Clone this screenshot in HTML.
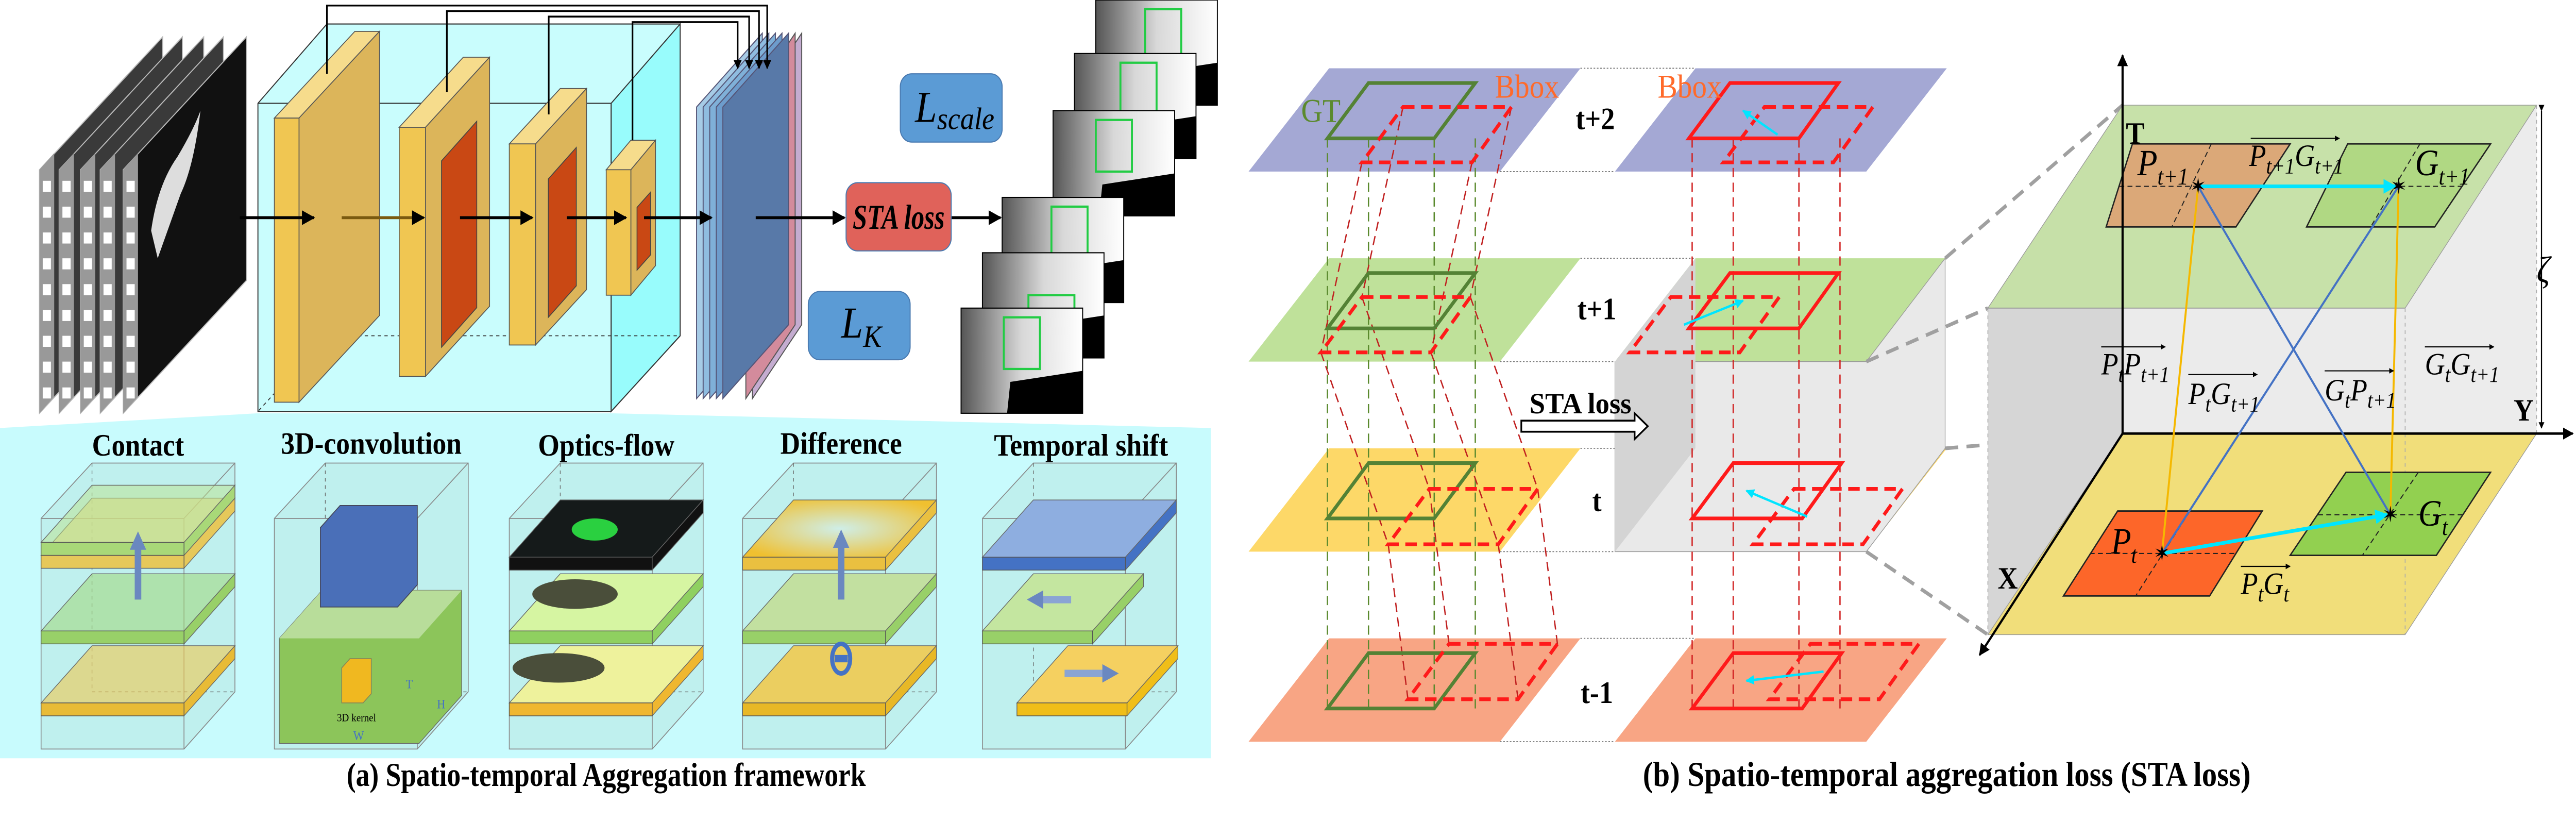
<!DOCTYPE html>
<html><head><meta charset="utf-8">
<style>
html,body{margin:0;padding:0;background:#fff;overflow:hidden;width:100%;height:100%;}
svg{display:block;position:absolute;left:0;top:0;width:100vw;height:100vh;}
text{font-family:"Liberation Serif",serif;}
</style></head>
<body>
<svg id="fig" viewBox="0 0 1568 445" preserveAspectRatio="none" font-family="Liberation Serif, serif" xmlns="http://www.w3.org/2000/svg">
<defs>
<marker id="ah" viewBox="0 0 10 10" refX="9" refY="5" markerWidth="5" markerHeight="5" orient="auto"><path d="M0,0L10,5L0,10z" fill="#000"/></marker>
<marker id="ahc" viewBox="0 0 10 10" refX="9" refY="5" markerWidth="4" markerHeight="4" orient="auto"><path d="M0,0L10,5L0,10z" fill="#00e5ff"/></marker>
<marker id="ahb" viewBox="0 0 10 10" refX="5" refY="5" markerUnits="userSpaceOnUse" markerWidth="10" markerHeight="10" orient="auto"><path d="M0,0L10,5L0,10z" fill="#6a88c0"/></marker>
<linearGradient id="gimg2" x1="0" y1="0" x2="1" y2="0"><stop offset="0" stop-color="#555"/><stop offset="0.5" stop-color="#d8d8d8"/><stop offset="1" stop-color="#fff"/></linearGradient>
<radialGradient id="gdiff" cx="0.5" cy="0.5" r="0.6"><stop offset="0" stop-color="#cfeee8"/><stop offset="1" stop-color="#f0c030"/></radialGradient>
</defs>

<!-- ================= PANEL A ================= -->
<g id="film"></g>

<g>
<polygon points="157,56 199,13 414,13 414,182 372,223 157,223" fill="#c9fdfd" stroke="#333" stroke-width="0.6"/>
<polygon points="372,56 414,13 414,182 372,223" fill="#98fcfc" stroke="#333" stroke-width="0.6"/>
<line x1="157" y1="56" x2="372" y2="56" stroke="#333" stroke-width="0.6"/>
<line x1="372" y1="56" x2="372" y2="223" stroke="#333" stroke-width="0.6"/>
<polyline points="199,13 199,182 414,182" fill="none" stroke="#333" stroke-width="0.5" stroke-dasharray="2,2"/>
<line x1="199" y1="182" x2="157" y2="223" stroke="#333" stroke-width="0.5" stroke-dasharray="2,2"/>
</g>
<g id="slabs"></g>

<g>
<polygon points="458,58 488,18 488,176 458,216" fill="#c4acd0" stroke="#555" stroke-width="0.6"/>
<polygon points="454,58 484,18 484,176 454,216" fill="#d38b9c" stroke="#555" stroke-width="0.6"/>
<polygon points="424,58 464,18 464,176 424,216" fill="#a6cbe6" stroke="#557" stroke-width="0.6"/>
<polygon points="428,58 468,18 468,176 428,216" fill="#8fbce0" stroke="#557" stroke-width="0.6"/>
<polygon points="432,58 472,18 472,176 432,216" fill="#7fb0d8" stroke="#557" stroke-width="0.6"/>
<polygon points="436,58 476,18 476,176 436,216" fill="#6d9ccc" stroke="#557" stroke-width="0.6"/>
<polygon points="440,58 480,18 480,176 440,216" fill="#5879a8" stroke="#557" stroke-width="0.6"/>
</g>
<g fill="none" stroke="#000" stroke-width="1">
<polyline points="199,40 199,3 467,3 467,37" marker-end="url(#ah)"/>
<polyline points="272,50 272,6 462,6 462,37" marker-end="url(#ah)"/>
<polyline points="334,62 334,9 456,9 456,37" marker-end="url(#ah)"/>
<polyline points="385,76 385,12 449,12 449,37" marker-end="url(#ah)"/>
</g>
<g stroke-width="1.6">
<line x1="146" y1="118" x2="191" y2="118" stroke="#000" marker-end="url(#ah)"/>
<line x1="208" y1="118" x2="258" y2="118" stroke="#7a5a10" marker-end="url(#ah)"/>
<line x1="280" y1="118" x2="324" y2="118" stroke="#000" marker-end="url(#ah)"/>
<line x1="345" y1="118" x2="381" y2="118" stroke="#000" marker-end="url(#ah)"/>
<line x1="392" y1="118" x2="433" y2="118" stroke="#000" marker-end="url(#ah)"/>
<line x1="460" y1="118" x2="514" y2="118" stroke="#000" marker-end="url(#ah)"/>
<line x1="579" y1="118" x2="609" y2="118" stroke="#000" marker-end="url(#ah)"/>
</g>
<g>
<rect x="515" y="99" width="64" height="37" rx="7" fill="#e0625a" stroke="#4a7ab0" stroke-width="0.6"/>
<text x="547" y="124" font-size="19" font-style="italic" font-weight="bold" text-anchor="middle" textLength="56" lengthAdjust="spacingAndGlyphs">STA loss</text>
</g>
<g>
<rect x="548" y="40" width="62" height="37" rx="7" fill="#5b9bd5" stroke="#4a7ab0" stroke-width="0.6"/>
<text x="557" y="66" font-size="24" font-style="italic">L<tspan font-size="17" dy="4">scale</tspan></text>
</g>
<g>
<rect x="492" y="158" width="62" height="37" rx="7" fill="#5b9bd5" stroke="#4a7ab0" stroke-width="0.6"/>
<text x="512" y="183" font-size="24" font-style="italic">L<tspan font-size="17" dy="5">K</tspan></text>
</g>
<g id="outs"></g>

<polygon points="0,232 157,224 372,224 737,232 737,411 0,411" fill="#c8fbfd"/>
<g font-size="17" font-weight="bold" text-anchor="middle">
<text x="84" y="247" textLength="56" lengthAdjust="spacingAndGlyphs">Contact</text>
<text x="226" y="246" textLength="110" lengthAdjust="spacingAndGlyphs">3D-convolution</text>
<text x="369" y="247" textLength="83" lengthAdjust="spacingAndGlyphs">Optics-flow</text>
<text x="512" y="246" textLength="74" lengthAdjust="spacingAndGlyphs">Difference</text>
<text x="658" y="247" textLength="106" lengthAdjust="spacingAndGlyphs">Temporal shift</text>
</g>
<g id="minis"></g>
<text x="369" y="426" font-size="18" font-weight="bold" text-anchor="middle" textLength="316" lengthAdjust="spacingAndGlyphs">(a) Spatio-temporal Aggregation framework</text>

<!-- ================= PANEL B ================= -->
<g id="planes"></g>
<g>
<polygon points="983,196 1136,196 1184,140 1184,243 1136,299 983,299" fill="#e9e9e9" stroke="#999" stroke-width="0.4"/>
<polygon points="983,196 1032,140 1032,243 983,299" fill="#d4d4d4"/>
</g>
<g id="boxesB"></g>
<g font-size="17" font-weight="bold" text-anchor="middle">
<text x="971" y="70">t+2</text><text x="972" y="173">t+1</text><text x="972" y="277">t</text><text x="972" y="381">t-1</text>
</g>
<text x="792" y="66" font-size="18" fill="#5b8a2e">GT</text>
<text x="910" y="53" font-size="18" fill="#ff6a2a">Bbox</text>
<text x="1009" y="53" font-size="18" fill="#ff6a2a">Bbox</text>
<g>
<text x="962" y="224" font-size="16" font-weight="bold" text-anchor="middle" textLength="62" lengthAdjust="spacingAndGlyphs">STA loss</text>
<polygon points="926,228 995,228 995,224 1003,231 995,238 995,234 926,234" fill="#fff" stroke="#000" stroke-width="1"/>
</g>
<g stroke="#a0a0a0" stroke-width="2" stroke-dasharray="8,5">
<line x1="1184" y1="140" x2="1292" y2="57"/><line x1="1136" y1="196" x2="1210" y2="167"/>
<line x1="1184" y1="243" x2="1292" y2="235"/><line x1="1136" y1="299" x2="1210" y2="344"/>
</g>
<g>
<polygon points="1292,57 1544,57 1544,235 1292,235" fill="#ebebeb"/>
<polygon points="1210,167 1292,57 1292,235 1210,344" fill="#d6d6d6"/>
<polygon points="1464,167 1544,57 1544,235 1464,344" fill="#ececec"/>
<polygon points="1292,235 1544,235 1464,344 1210,344" fill="#f1de7a" stroke="#999" stroke-width="0.4"/>
<polygon points="1292,57 1544,57 1464,167 1210,167" fill="#c5e0a5" fill-opacity="0.95" stroke="#999" stroke-width="0.4"/>
<line x1="1210" y1="167" x2="1464" y2="167" stroke="#999" stroke-width="0.5"/>
<line x1="1210" y1="167" x2="1210" y2="344" stroke="#aaa" stroke-width="0.5" stroke-dasharray="2,2"/>
<line x1="1464" y1="167" x2="1464" y2="344" stroke="#aaa" stroke-width="0.5" stroke-dasharray="2,2"/>
<line x1="1544" y1="57" x2="1544" y2="235" stroke="#aaa" stroke-width="0.5" stroke-dasharray="2,2"/>
</g>
<g stroke="#222" stroke-width="0.8">
<polygon points="1298,78 1394,78 1361,123 1282,123" fill="#dba878"/>
<polygon points="1429,78 1516,78 1482,123 1404,123" fill="#b0d883"/>
<polygon points="1289,277 1377,277 1345,323 1256,323" fill="#fd6629"/>
<polygon points="1428,256 1516,256 1483,301 1394,301" fill="#92d050"/>
</g>
<g stroke="#222" stroke-width="0.6" stroke-dasharray="3,2" fill="none">
<line x1="1290" y1="101" x2="1394" y2="101"/><line x1="1346" y1="78" x2="1322" y2="123"/>
<line x1="1416" y1="101" x2="1500" y2="101"/><line x1="1473" y1="78" x2="1443" y2="123"/>
<line x1="1272" y1="300" x2="1362" y2="300"/><line x1="1333" y1="277" x2="1300" y2="323"/>
<line x1="1411" y1="279" x2="1500" y2="279"/><line x1="1472" y1="256" x2="1438" y2="301"/>
</g>
<g stroke="#000" stroke-width="1.3" fill="none">
<line x1="1292" y1="235" x2="1292" y2="30" marker-end="url(#ah)"/>
<line x1="1292" y1="235" x2="1566" y2="235" marker-end="url(#ah)"/>
<line x1="1292" y1="235" x2="1205" y2="355" marker-end="url(#ah)"/>
<line x1="1547" y1="60" x2="1547" y2="232" stroke-width="0.7" marker-start="url(#ah)" marker-end="url(#ah)"/>
</g>
<g font-size="17" font-weight="bold">
<text x="1294" y="78">T</text><text x="1530" y="228">Y</text><text x="1216" y="319">X</text>
<text x="1544" y="153" font-style="italic" font-weight="normal" font-size="20">ζ</text>
</g>
<g fill="none" stroke-width="1.2">
<line x1="1316" y1="300" x2="1338" y2="101" stroke="#f5b800"/>
<line x1="1455" y1="279" x2="1460" y2="101" stroke="#f5b800"/>
<line x1="1316" y1="300" x2="1460" y2="101" stroke="#4472c4"/>
<line x1="1455" y1="279" x2="1338" y2="101" stroke="#4472c4"/>
<line x1="1338" y1="101" x2="1458" y2="101" stroke="#00e5ff" stroke-width="2" marker-end="url(#ahc)"/>
<line x1="1316" y1="300" x2="1453" y2="279" stroke="#00e5ff" stroke-width="2" marker-end="url(#ahc)"/>
</g>
<g font-size="12" text-anchor="middle">
<text x="1338" y="105">✶</text><text x="1460" y="105">✶</text><text x="1316" y="304">✶</text><text x="1455" y="283">✶</text>
</g>
<g font-size="20" font-style="italic">
<text x="1301" y="95">P<tspan font-size="13" dy="5">t+1</tspan></text>
<text x="1470" y="95">G<tspan font-size="13" dy="5">t+1</tspan></text>
<text x="1285" y="300">P<tspan font-size="13" dy="5">t</tspan></text>
<text x="1472" y="285">G<tspan font-size="13" dy="5">t</tspan></text>
<text x="1369" y="90" font-size="17">P<tspan font-size="12" dy="4">t+1</tspan><tspan dy="-4">G</tspan><tspan font-size="12" dy="4">t+1</tspan></text>
<text x="1279" y="203" font-size="17">P<tspan font-size="12" dy="4">t</tspan><tspan dy="-4">P</tspan><tspan font-size="12" dy="4">t+1</tspan></text>
<text x="1332" y="219" font-size="17">P<tspan font-size="12" dy="4">t</tspan><tspan dy="-4">G</tspan><tspan font-size="12" dy="4">t+1</tspan></text>
<text x="1415" y="217" font-size="17">G<tspan font-size="12" dy="4">t</tspan><tspan dy="-4">P</tspan><tspan font-size="12" dy="4">t+1</tspan></text>
<text x="1476" y="203" font-size="17">G<tspan font-size="12" dy="4">t</tspan><tspan dy="-4">G</tspan><tspan font-size="12" dy="4">t+1</tspan></text>
<text x="1364" y="322" font-size="17">P<tspan font-size="12" dy="4">t</tspan><tspan dy="-4">G</tspan><tspan font-size="12" dy="4">t</tspan></text>
</g>
<g stroke="#000" stroke-width="0.6" marker-end="url(#ah)">
<line x1="1370" y1="75" x2="1424" y2="75"/><line x1="1279" y1="188" x2="1318" y2="188"/>
<line x1="1332" y1="203" x2="1374" y2="203"/><line x1="1415" y1="201" x2="1457" y2="201"/>
<line x1="1476" y1="188" x2="1518" y2="188"/><line x1="1364" y1="307" x2="1394" y2="307"/>
</g>
<text x="1185" y="426" font-size="19" font-weight="bold" text-anchor="middle" textLength="370" lengthAdjust="spacingAndGlyphs">(b) Spatio-temporal aggregation loss (STA loss)</text>

<script>
const NS='http://www.w3.org/2000/svg';
function mk(parent,tag,attrs){const e=document.createElementNS(NS,tag);for(const k in attrs)e.setAttribute(k,attrs[k]);parent.appendChild(e);return e;}
const P=a=>a.map(p=>p.join(',')).join(' ');

const filmX=[24,36,49,61,75];
const film=document.getElementById('film');
filmX.forEach((x,i)=>{
  const last=i===filmX.length-1;
  const f=mk(film,'polygon',{points:P([[x,92],[x+75,20],[x+75,152],[x,224]]),fill:last?'#111':'#3a3a3a',stroke:'#bbb','stroke-width':0.6});
  
  
  const s=mk(film,'polygon',{points:P([[x,92],[x+9,83],[x+9,215],[x,224]]),fill:'#999'});
  
  
  for(let k=0;k<9;k++){const y=100+k*14;const h=mk(film,'rect',{x:x+2,y:y-2,width:5,height:6,fill:'#fff'});
    
    }
});
const smoke=mk(film,'path',{d:'M92,125 Q96,100 108,85 Q118,70 122,60 Q118,90 110,105 Q102,125 96,140 Z',fill:'#ddd'});



const slabs=[[167,64,15,218,49,47,0],[243,69,16,204,39,38,1],[310,78,16,187,31,30,1],[369,92,15,160,15,16,1]];
const sg=document.getElementById('slabs');
slabs.forEach(s=>{const [x,t,w,b,dx,dy,red]=s;
  const top=mk(sg,'polygon',{points:P([[x,t],[x+dx,t-dy],[x+w+dx,t-dy],[x+w,t]]),fill:'#f6dc8c',stroke:'#555','stroke-width':0.5});
  
  
  const side=mk(sg,'polygon',{points:P([[x+w,t],[x+w+dx,t-dy],[x+w+dx,b-dy],[x+w,b]]),fill:'#dcb55a',stroke:'#555','stroke-width':0.5});
  
  
  const fr=mk(sg,'rect',{x:x,y:t,width:w,height:b-t,fill:'#f0c652',stroke:'#555','stroke-width':0.5});
  
  
  if(red){const ix=x+w+dx*0.25, iy=t-dy*0.1+12;const ih=(b-t)-24;const idx=dx*0.55;
    const r=mk(sg,'polygon',{points:P([[ix,iy+10],[ix+idx,iy-idx+10],[ix+idx,iy-idx+ih],[ix,iy+ih]]),fill:'#c94814',stroke:'#444','stroke-width':0.5});
    
    }
});

const outXY=[[667,0],[654,29],[641,60],[610,107],[598,137],[585,167]];
const og=document.getElementById('outs');
outXY.forEach((p,i)=>{const [x,y]=p;
  const r=mk(og,'rect',{x:x,y:y,width:74,height:57,fill:'url(#gimg2)',stroke:'#000','stroke-width':0.6});
  
  
  const b=mk(og,'polygon',{points:P([[x+28,y+57],[x+30,y+40],[x+74,y+34],[x+74,y+57]]),fill:'#000'});
  
  
  const g=mk(og,'rect',{x:x+30-(i%3)*2,y:y+5+(i===4?18:0),width:(i===4?28:22),height:(i===4?14:28),fill:'none',stroke:'#22cc44','stroke-width':1.2});
  
  
});

const miniX=[25,167,310,452,598];
const mg=document.getElementById('minis');
const D=31;
function layer(x,w,y,top,front,name){
  const t=mk(mg,'polygon',{points:P([[x,y],[x+w,y],[x+w+D,y-D],[x+D,y-D]]),fill:top,stroke:'#666','stroke-width':0.4});
  
  
  const s=mk(mg,'polygon',{points:P([[x+w,y],[x+w+D,y-D],[x+w+D,y-D+7],[x+w,y+7]]),fill:front,stroke:'#666','stroke-width':0.4});
  
  
  const f=mk(mg,'rect',{x:x,y:y,width:w,height:7,fill:front,stroke:'#555','stroke-width':0.4});
  
  
}
miniX.forEach((x,i)=>{
  const o=mk(mg,'polygon',{points:P([[x,281],[x+D,251],[x+87+D,251],[x+87+D,375],[x+87,406],[x,406]]),fill:'#bff0ee',stroke:'#888','stroke-width':0.5});
  
  
  const l=mk(mg,'polyline',{points:P([[x,281],[x+87,281],[x+87+D,251]]),fill:'none',stroke:'#888','stroke-width':0.5});
  
  
  const l2=mk(mg,'line',{x1:x+87,y1:281,x2:x+87,y2:406,stroke:'#888','stroke-width':0.5});
  
  
  const l3=mk(mg,'polyline',{points:P([[x+D,251],[x+D,375],[x+87+D,375]]),fill:'none',stroke:'#666','stroke-width':0.4,'stroke-dasharray':'2,2'});
  
  
  if(i===0){layer(x,87,381,'rgba(240,200,80,0.6)','#e8bb36','yellow-layer');layer(x,87,342,'rgba(160,215,120,0.55)','#98d068','green-layer');
    layer(x,87,301,'rgba(230,215,120,0.6)','#e6c85a','yellow-layer');layer(x,87,294,'rgba(190,225,140,0.5)','#a8d878','green-layer');
    const a=mk(mg,'line',{x1:x+59,y1:325,x2:x+59,y2:293,stroke:'#6a88c0','stroke-width':4,'marker-end':'url(#ahb)'});
    
    }
  if(i===1){const g1=mk(mg,'polygon',{points:P([[x+3,346],[x+29,320],[x+114,320],[x+114,377],[x+88,403],[x+3,403]]),fill:'#8cc55a',stroke:'#666','stroke-width':0.4});
    
    
    const g2=mk(mg,'polygon',{points:P([[x+3,346],[x+29,320],[x+114,320],[x+88,346]]),fill:'#b8dd9a'});
    
    
    const b1=mk(mg,'polygon',{points:P([[x+28,286],[x+40,274],[x+87,274],[x+87,317],[x+75,329],[x+28,329]]),fill:'#4a6fb8',stroke:'#445','stroke-width':0.5});
    
    
    const k=mk(mg,'polygon',{points:P([[x+41,362],[x+46,357],[x+59,357],[x+59,376],[x+54,381],[x+41,381]]),fill:'#f0b820',stroke:'#885','stroke-width':0.5});
    
    
    const t=mk(mg,'text',{x:x+50,y:391,'font-size':6,'text-anchor':'middle'});t.textContent='3D kernel';
    
    
    [['T',x+80,373],['H',x+99,384],['W',x+48,401]].forEach(q=>{const tt=mk(mg,'text',{x:q[1],y:q[2],'font-size':7,fill:'#4472c4'});tt.textContent=q[0];
      
      });}
  if(i===2){layer(x,87,381,'#eef29c','#efb730','yellow-layer');layer(x,87,342,'#d6f5a2','#8fd060','green-layer');layer(x,87,302,'#151a1a','#111','flow-layer');
    [[x+40,322,26,8],[x+30,362,28,8]].forEach(c=>{const e=mk(mg,'ellipse',{cx:c[0],cy:c[1],rx:c[2],ry:c[3],fill:'#4a4e3a'});
      
      });
    const fl=mk(mg,'ellipse',{cx:x+52,cy:287,rx:14,ry:6,fill:'#2ad040'});
    
    }
  if(i===3){layer(x,87,381,'#ebce60','#e8b826','yellow-layer');layer(x,87,342,'#c2e0a0','#98d068','green-layer');layer(x,87,302,'url(#gdiff)','#eac040','diff-layer');
    const a=mk(mg,'line',{x1:x+60,y1:325,x2:x+60,y2:292,stroke:'#6a88c0','stroke-width':4,'marker-end':'url(#ahb)'});
    
    
    const c=mk(mg,'ellipse',{cx:x+60,cy:357,rx:5.5,ry:8,fill:'none',stroke:'#4472c4','stroke-width':2.5});
    
    
    const m=mk(mg,'rect',{x:x+56,y:355,width:8,height:4,fill:'#4472c4'});
    
    }
  if(i===4){layer(x+21,67,381,'#f5d060','#f0be18','yellow-layer');layer(x,67,342,'#c4e6a0','#98d068','green-layer');layer(x,87,302,'#8eaee0','#4472c4','blue-layer');
    const a1=mk(mg,'line',{x1:x+54,y1:325,x2:x+32,y2:325,stroke:'#8aa4d4','stroke-width':4,'marker-end':'url(#ahb)'});
    
    
    const a2=mk(mg,'line',{x1:x+50,y1:365,x2:x+78,y2:365,stroke:'#8aa4d4','stroke-width':4,'marker-end':'url(#ahb)'});
    
    }
});

const planeTop=[37,140,243,346];
const planeColors=['#a4a8d4','#bfe19a','#fdd868','#f8a584'];
const colX=[0,223];
const pg=document.getElementById('planes');
planeTop.forEach((t,i)=>{colX.forEach(cx=>{
  const p=mk(pg,'polygon',{points:P([[760+cx,t+56],[809+cx,t],[962+cx,t],[913+cx,t+56]]),fill:planeColors[i]});
  
  });
  const d=mk(pg,'line',{x1:913,y1:t+56,x2:983,y2:t+56,stroke:'#777','stroke-width':0.5,'stroke-dasharray':'1,1'});
  
  
  const d2=mk(pg,'line',{x1:962,y1:t,x2:1032,y2:t,stroke:'#777','stroke-width':0.5,'stroke-dasharray':'1,1'});
  
  
});

const gtShape=[[833,0],[898,0],[873,30],[808,30]];
const predLeft=[[854,58],[829,161],[870,265],[882,349]];
const predRightSolid=[[1053,45],[1053,148],[1055,251],[1055,354]];
const predRightDash=[[1074,58],[1017,161],[1092,265],[1102,349]];
const shape=(x,y)=>[[x,y],[x+66,y],[x+42,y+30],[x-25,y+30]];
const bg=document.getElementById('boxesB');
[808,833,873,898].forEach(x=>{const l=mk(bg,'line',{x1:x,y1:75,x2:x,y2:384,stroke:'#5b8a2e','stroke-width':0.8,'stroke-dasharray':'5,3'});
  
  });
[1030,1055,1095,1120].forEach(x=>{const l=mk(bg,'line',{x1:x,y1:75,x2:x,y2:384,stroke:'#d02020','stroke-width':0.8,'stroke-dasharray':'5,3'});
  
  });
for(let i=0;i<3;i++){const a=shape(...predLeft[i]),b=shape(...predLeft[i+1]);
  for(let k=0;k<4;k++){const l=mk(bg,'line',{x1:a[k][0],y1:a[k][1],x2:b[k][0],y2:b[k][1],stroke:'#c02020','stroke-width':0.8,'stroke-dasharray':'5,3'});
    
    }}
planeTop.forEach((t,i)=>{
  const g=mk(bg,'polygon',{points:P(gtShape.map(p=>[p[0],p[1]+t+8])),fill:'none',stroke:'#548235','stroke-width':2});
  
  
  const pl=mk(bg,'polygon',{points:P(shape(...predLeft[i])),fill:'none',stroke:'#ff1a1a','stroke-width':2,'stroke-dasharray':'7,4'});
  
  
  const ps=mk(bg,'polygon',{points:P(shape(...predRightSolid[i])),fill:'none',stroke:'#ff1a1a','stroke-width':2});
  
  
  const pd=mk(bg,'polygon',{points:P(shape(...predRightDash[i])),fill:'none',stroke:'#ff1a1a','stroke-width':2,'stroke-dasharray':'7,4'});
  
  
  const s=predRightSolid[i],d=predRightDash[i];
  const ar=mk(bg,'line',{x1:d[0]+8,y1:d[1]+15,x2:s[0]+8,y2:s[1]+15,stroke:'#00e5ff','stroke-width':1.3,'marker-end':'url(#ahc)'});
  
  
});
</script>
</svg>
</body></html>
